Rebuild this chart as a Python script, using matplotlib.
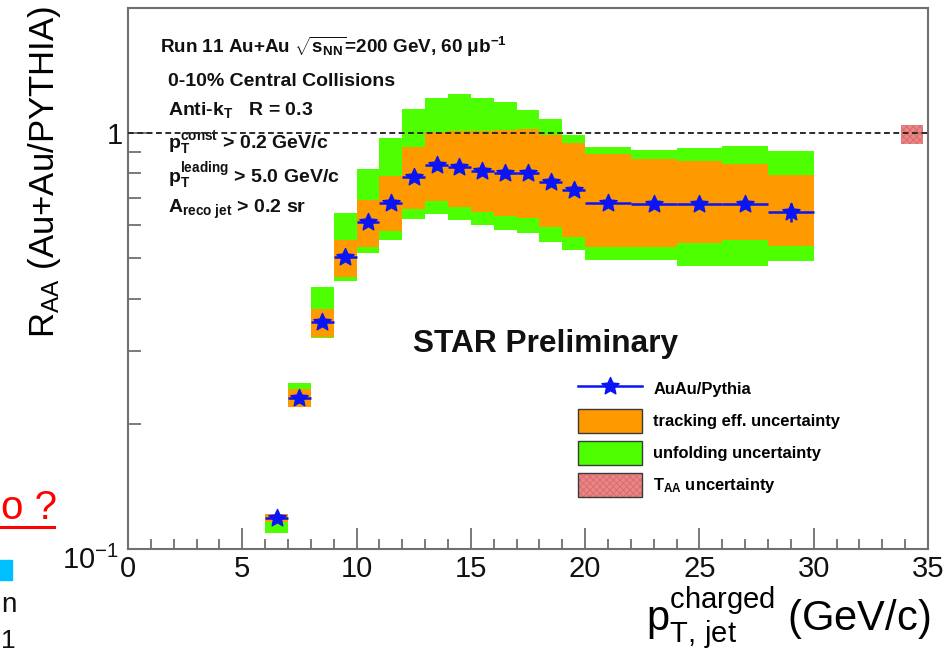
import numpy as np
import matplotlib
matplotlib.use("Agg")
import matplotlib.pyplot as plt
from matplotlib.patches import Patch, Rectangle
from matplotlib.lines import Line2D
from matplotlib.path import Path
from matplotlib.transforms import ScaledTranslation
from matplotlib.ticker import FixedLocator, FixedFormatter, NullFormatter

plt.rcParams['font.family'] = ['Liberation Sans', 'DejaVu Sans']
plt.rcParams['mathtext.fontset'] = 'custom'
plt.rcParams['mathtext.rm'] = 'Liberation Sans'
plt.rcParams['mathtext.bf'] = 'Liberation Sans:bold'
plt.rcParams['mathtext.it'] = 'Liberation Sans:italic'
plt.rcParams['mathtext.sf'] = 'Liberation Sans'
plt.rcParams['hatch.linewidth'] = 0.6

# ---- data: charged-jet R_AA, 0-10% central Au+Au, anti-kT R=0.3 ----
bin_lo = [6, 7, 8, 9, 10, 11, 12, 13, 14, 15, 16, 17, 18, 19, 20, 22, 24, 26, 28]
bin_hi = [7, 8, 9, 10, 11, 12, 13, 14, 15, 16, 17, 18, 19, 20, 22, 24, 26, 28, 30]
raa = [0.1185, 0.231, 0.351, 0.503, 0.610, 0.678, 0.783, 0.838, 0.830, 0.812,
       0.803, 0.800, 0.764, 0.729, 0.681, 0.675, 0.675, 0.675, 0.647]
stat_lo = [0, 0, 0, 0, 0, 0, 0, 0, 0, 0, 0, 0, 0, 0, 0, 0, 0, 0, 0.035]
stat_hi = [0, 0, 0, 0, 0, 0, 0, 0, 0, 0, 0, 0, 0, 0, 0, 0, 0, 0, 0.031]
# tracking-efficiency systematic band (lower / upper edge)
track_lo = [0.1163, 0.2191, 0.3238, 0.4514, 0.5330, 0.5825, 0.6566, 0.6864, 0.6650, 0.6469,
            0.6317, 0.6237, 0.5955, 0.5635, 0.5312, 0.5330, 0.5432, 0.5532, 0.5360]
track_hi = [0.1212, 0.2420, 0.3770, 0.5531, 0.6901, 0.7883, 0.9240, 1.0072, 1.0128, 1.0130,
            1.0167, 1.0207, 0.9890, 0.9446, 0.8888, 0.8660, 0.8564, 0.8409, 0.7926]
# unfolding systematic band (lower / upper edge)
unfold_lo = [0.1091, 0.2191, 0.3210, 0.4406, 0.5156, 0.5532, 0.6204, 0.6378, 0.6180, 0.6010,
             0.5848, 0.5761, 0.5481, 0.5233, 0.4951, 0.4951, 0.4797, 0.4797, 0.4924]
unfold_hi = [0.1212, 0.2501, 0.4271, 0.6434, 0.8192, 0.9711, 1.1420, 1.2117, 1.2410, 1.2117,
             1.1890, 1.1360, 1.0787, 0.9890, 0.9240, 0.9102, 0.9189, 0.9307, 0.9068]
# T_AA normalisation uncertainty box, drawn at unity
taa_x = [33.8, 34.8]
taa_band = [0.94, 1.045]

x_ticks = [0, 5, 10, 15, 20, 25, 30, 35]
y_ticks = [0.1, 1.0]
y_ticklabels = [r"$10^{-1}$", "1"]

GREEN = "#4dff00"
ORANGE = "#ff9900"
BLUE = "#0a14f5"
PINK = "#ea8585"

lo = np.array(bin_lo, float)
hi = np.array(bin_hi, float)
centers = 0.5 * (lo + hi)
widths = hi - lo

fig = plt.figure(figsize=(9.47, 6.53), dpi=100)
ax = fig.add_axes([128 / 947, 1 - 549 / 653, 800 / 947, 541 / 653])
ax.set_yscale('log')
ax.set_xlim(0, 35)
ax.set_ylim(0.1, 2.0)

# systematic boxes
ax.bar(centers, np.array(unfold_hi) - np.array(unfold_lo), bottom=unfold_lo, width=widths,
       color=GREEN, linewidth=0, zorder=1)
ax.bar(centers, np.array(track_hi) - np.array(track_lo), bottom=track_lo, width=widths,
       color=ORANGE, linewidth=0, zorder=2)
ax.bar([0.5 * (taa_x[0] + taa_x[1])], [taa_band[1] - taa_band[0]], bottom=[taa_band[0]],
       width=taa_x[1] - taa_x[0], color=PINK, hatch='xxxxx', edgecolor='#d86a6a',
       linewidth=0, zorder=2)

# ROOT-like filled star marker
k = np.arange(10)
ang = np.pi / 2 + k * np.pi / 5
rad = np.where(k % 2 == 0, 1.0, 0.47)
verts = np.column_stack([rad * np.cos(ang), rad * np.sin(ang)])
star = Path(np.vstack([verts, verts[:1]]), closed=True)

ax.errorbar(centers, raa, xerr=widths / 2, yerr=[stat_lo, stat_hi], fmt='none',
            ecolor=BLUE, elinewidth=1.8, capsize=0, zorder=4)
ax.plot(centers, raa, ls='none', marker=star, ms=13, color=BLUE, mec=BLUE, zorder=5)

# unity reference
ax.axhline(1.0, color='#2a2a2a', lw=1.4, ls=(0, (3, 1.8)), zorder=6)

# axes styling
frame_c = '#707070'
for s in ax.spines.values():
    s.set_color(frame_c)
    s.set_linewidth(1.5)
ax.xaxis.set_major_locator(FixedLocator(x_ticks))
ax.xaxis.set_minor_locator(FixedLocator(np.arange(0, 36, 1)))
ax.set_xticklabels([str(t) for t in x_ticks])
ax.yaxis.set_major_locator(FixedLocator(y_ticks))
ax.yaxis.set_minor_locator(FixedLocator([0.2, 0.3, 0.4, 0.5, 0.6, 0.7, 0.8, 0.9]))
ax.yaxis.set_major_formatter(FixedFormatter(y_ticklabels))
ax.yaxis.set_minor_formatter(NullFormatter())
ax.tick_params(axis='both', which='both', direction='in', color=frame_c, width=1.3,
               top=False, right=False, labelsize=21, labelcolor='#111111')
ax.tick_params(axis='x', which='major', length=15, pad=4)
ax.tick_params(axis='x', which='minor', length=7.5)
ax.tick_params(axis='y', which='major', length=17, pad=4)
ax.tick_params(axis='y', which='minor', length=9)
low_lab = ax.yaxis.get_majorticklabels()[0]
low_lab.set_verticalalignment('top')
low_lab.set_transform(low_lab.get_transform()
                      + ScaledTranslation(-4 / 100, 3 / 100, fig.dpi_scale_trans))

ax.set_xlabel(r"$\mathrm{p}_{\mathrm{T,\,jet}}^{\mathrm{charged}}$ (GeV/c)", fontsize=30,
              loc='right')
ax.xaxis.set_label_coords(1.0025, -0.068)
ax.set_ylabel(r"R$_{\mathrm{AA}}$ (Au+Au/PYTHIA)", fontsize=25)
ax.yaxis.set_label_coords(-0.081, 0.697)

# run / cut annotations
tk = dict(transform=ax.transAxes, fontsize=14, fontweight='bold', va='baseline', color='#111111')
ax.text(0.040, 0.917, r"Run 11 Au+Au $\sqrt{\mathbf{s}_{\mathbf{NN}}}$=200 GeV, 60 $\mathbf{\mu b}^{\mathbf{-1}}$",
        **dict(tk, fontsize=13.6))
ax.text(0.050, 0.856, "0-10% Central Collisions", **tk)
ax.text(0.050, 0.802, r"Anti-k$_{\mathbf{T}}$   R = 0.3", **tk)
ax.text(0.050, 0.741, r"$\mathbf{p}_{\mathbf{T}}^{\mathbf{const}}$ > 0.2 GeV/c", **tk)
ax.text(0.050, 0.677, r"$\mathbf{p}_{\mathbf{T}}^{\mathbf{leading}}$ > 5.0 GeV/c", **tk)
ax.text(0.050, 0.621, r"A$_{\mathbf{reco\ jet}}$ > 0.2 sr", **tk)
ax.text(0.356, 0.364, "STAR Preliminary", transform=ax.transAxes, fontsize=22.8,
        fontweight='bold', va='baseline', color='#111111')

# legend
h_data = Line2D([], [], color=BLUE, lw=1.8, marker=star, ms=13)
h_track = Patch(facecolor=ORANGE, edgecolor='#3a3a3a', linewidth=1.0)
h_unf = Patch(facecolor=GREEN, edgecolor='#3a3a3a', linewidth=1.0)
h_taa = (Patch(facecolor=PINK, hatch='xxxxx', edgecolor='#d86a6a', linewidth=0),
         Patch(facecolor='none', edgecolor='#3a3a3a', linewidth=1.0))
fig.legend([h_data, h_track, h_unf, h_taa],
           ["AuAu/Pythia", "tracking eff. uncertainty", "unfolding uncertainty",
            r"T$_{\mathbf{AA}}$ uncertainty"],
           loc='upper left', bbox_to_anchor=(578 / 947, (653 - 377) / 653),
           frameon=False, borderpad=0, borderaxespad=0,
           prop=dict(size=11.9, weight='bold'), handlelength=3.9, handleheight=1.8,
           labelspacing=0.53, handletextpad=0.65)

# slide fragments at the left margin
fig.text(1 / 947, 1 - 519 / 653, "o ?", color='#ff0000', fontsize=29, ha='left', va='baseline')
fig.add_artist(Line2D([0, 54 / 947], [1 - 527 / 653] * 2, color='#ff0000', lw=2.2,
                      transform=fig.transFigure))
fig.add_artist(Rectangle((0, 1 - 580 / 653), 12 / 947, 20 / 653, color='#00bfff',
                         transform=fig.transFigure))
fig.text(1 / 947, 1 - 612 / 653, "n", fontsize=20, ha='left', va='baseline', color='#111111')
fig.text(1 / 947, 1 - 648 / 653, "1", fontsize=19, ha='left', va='baseline', color='#111111')

fig.savefig("out.png", dpi=100)
